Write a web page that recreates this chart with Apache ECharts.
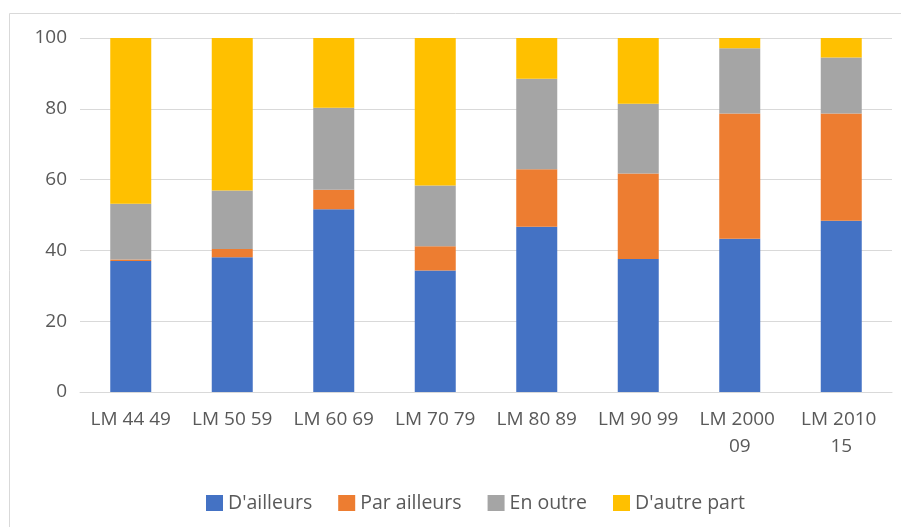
<!DOCTYPE html>
<html>
<head>
<meta charset="utf-8">
<script src="https://cdn.jsdelivr.net/npm/echarts@6/dist/echarts.min.js"></script>
<style>
html,body{margin:0;padding:0;background:#fff;}
#chart{width:901px;height:527px;}
</style>
</head>
<body>
<div id="chart"></div>
<script>
var categories = ["LM 44 49", "LM 50 59", "LM 60 69", "LM 70 79", "LM 80 89", "LM 90 99", "LM 2000 09", "LM 2010 15"];
var seriesNames = ["D'ailleurs", "Par ailleurs", "En outre", "D'autre part"];
var dAilleurs   = [37.0, 38.1, 51.6, 34.3, 46.7, 37.6, 43.3, 48.4];
var parAilleurs = [0.4, 2.3, 5.5, 6.9, 16.2, 24.1, 35.4, 30.3];
var enOutre     = [15.8, 16.5, 23.2, 17.1, 25.6, 19.7, 18.4, 15.8];
var dAutrePart  = [46.8, 43.1, 19.7, 41.7, 11.5, 18.6, 2.9, 5.5];
var colors = ["#4472C4", "#ED7D31", "#A5A5A5", "#FFC000"];

var FONT = "'Open Sans', sans-serif";
var TXT = "#595959";
var chart = echarts.init(document.getElementById('chart'), null, {renderer: 'canvas'});
var values = [dAilleurs, parAilleurs, enOutre, dAutrePart];
var series = seriesNames.map(function (n, i) {
  return {
    name: n,
    type: 'bar',
    stack: 'total',
    barWidth: 41,
    data: values[i],
    itemStyle: {color: colors[i]},
    emphasis: {disabled: true}
  };
});
chart.setOption({
  animation: false,
  color: colors,
  graphic: [{
    type: 'rect',
    shape: {x: 9.5, y: 13.5, width: 960, height: 600},
    style: {fill: 'none', stroke: '#d9d9d9', lineWidth: 1},
    silent: true
  }],
  grid: {left: 80, right: 9, top: 38, bottom: 135, containLabel: false},
  legend: {
    left: 201,
    top: 488,
    itemWidth: 17,
    itemHeight: 16,
    itemGap: 26,
    icon: 'rect',
    textStyle: {fontFamily: FONT, fontSize: 19.5, color: TXT},
    data: seriesNames
  },
  xAxis: {
    type: 'category',
    data: categories,
    axisLine: {lineStyle: {color: '#d9d9d9', width: 1}},
    axisTick: {show: false},
    axisLabel: {
      fontFamily: FONT, fontSize: 19, color: TXT, margin: 14, lineHeight: 27,
      interval: 0, width: 96, overflow: 'break'
    }
  },
  yAxis: {
    type: 'value',
    min: 0, max: 100, interval: 20,
    axisLine: {show: false},
    axisTick: {show: false},
    splitLine: {lineStyle: {color: '#d9d9d9', width: 1}},
    axisLabel: {fontFamily: FONT, fontSize: 19, color: TXT, margin: 13}
  },
  series: series
});
</script>
</body>
</html>
